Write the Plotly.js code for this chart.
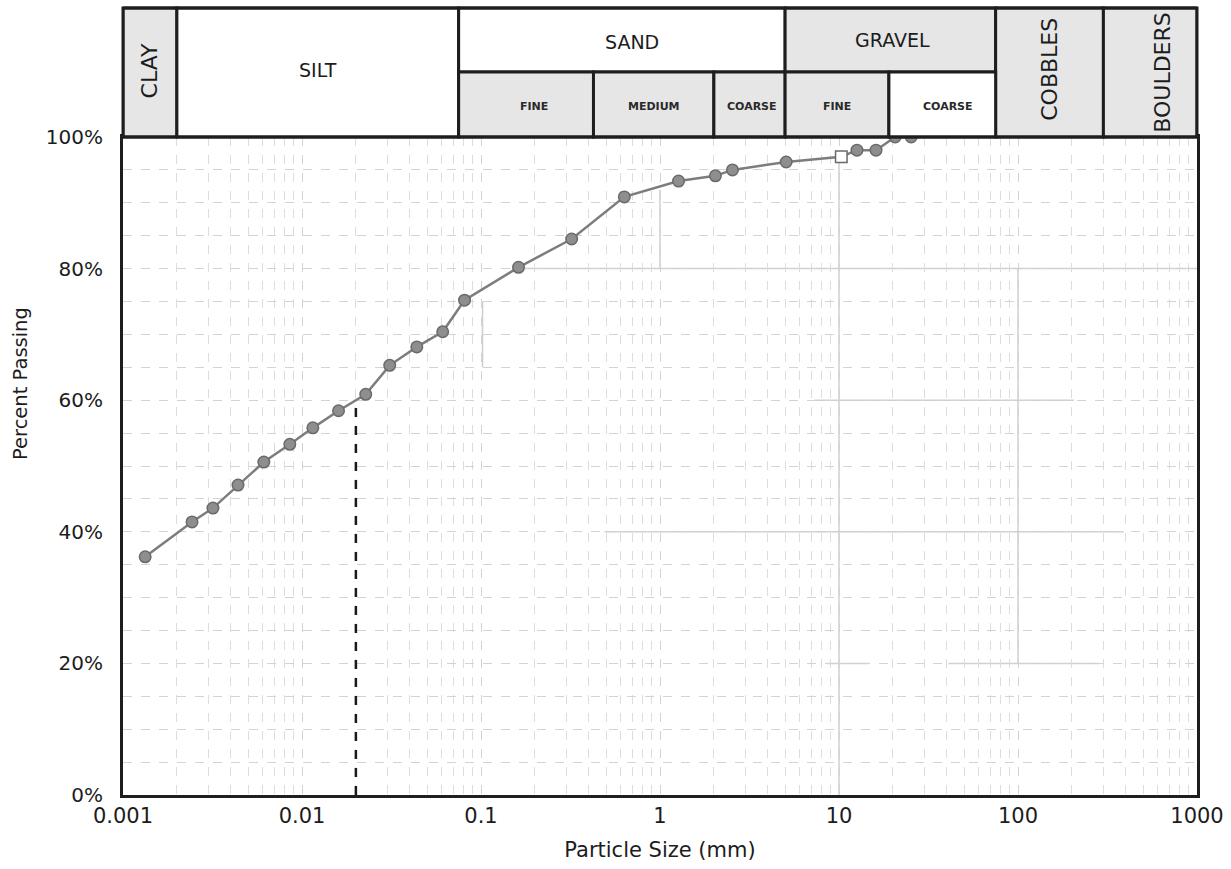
<!DOCTYPE html>
<html><head><meta charset="utf-8">
<script src="https://cdn.plot.ly/plotly-3.0.1.min.js"></script>
<style>html,body{margin:0;padding:0;background:#fff}#chart{width:1231px;height:869px}</style>
</head><body><div id="chart"></div>
<script>
// ---- data ----
const particleSize = [0.00133,0.00243,0.00318,0.00439,0.00612,0.00855,0.0115,0.0160,0.0227,0.0309,0.0438,0.0611,0.0809,0.162,0.321,0.632,1.27,2.04,2.54,5.07,10.3,12.6,16.1,20.6,25.3];
const percentPassing = [36.2,41.5,43.6,47.1,50.6,53.3,55.8,58.4,60.9,65.3,68.1,70.4,75.2,80.2,84.5,90.9,93.3,94.1,95.0,96.2,97.0,98.0,98.0,100,100];
const hollowIndex = 20;
const refLineX = [0.02, 0.02];
const refLineY = [0, 59.8];
const xTickVals = [0.001,0.01,0.1,1,10,100,1000];
const xTickText = ['0.001','0.01','0.1','1','10','100','1000'];
const yTickVals = [0,20,40,60,80,100];
const yTickText = ['0%','20%','40%','60%','80%','100%'];
const xTitle = 'Particle Size (mm)';
const yTitle = 'Percent Passing';
// header classification
const zoneNames  = ['CLAY','SILT','SAND','GRAVEL','COBBLES','BOULDERS'];
const zoneBounds = [0.001,0.002,0.075,5,75,300,1000];
const subNames   = ['FINE','MEDIUM','COARSE','FINE','COARSE'];
const subBounds  = [0.075,0.425,2,5,19,75];
// faint scanned lines [y, x0, x1] and [x, y0, y1]
const faintH = [[80,0.164,1000],[60,7.3,205],[40,0.49,390],[20,8.6,14.7],[20,41,283]];
const faintV = [[10,0,97],[100,20,80],[1,80,92],[0.102,65,75]];

const GRAY='#e6e6e6', EDGE='#1e1e1e';
const Y_TOP=1.1961, Y_MID=1.0988, Y_BOT=1.0;
const FONT='DejaVu Sans, Verdana, sans-serif';
const TXT='#1c1c1c';

const shapes=[], ann=[];
const lm=(a,b)=>Math.pow(10,(Math.log10(a)+Math.log10(b))/2);
function cell(x0,x1,y0,y1,fill){
  shapes.push({type:'rect',xref:'x',yref:'paper',x0:x0,x1:x1,y0:y0,y1:y1,fillcolor:fill,line:{color:EDGE,width:3},layer:'above'});
}
cell(zoneBounds[0],zoneBounds[1],Y_BOT,Y_TOP,GRAY);      // clay
cell(zoneBounds[1],zoneBounds[2],Y_BOT,Y_TOP,'#ffffff'); // silt
cell(zoneBounds[2],zoneBounds[3],Y_MID,Y_TOP,'#ffffff'); // sand
cell(zoneBounds[3],zoneBounds[4],Y_MID,Y_TOP,GRAY);      // gravel
cell(zoneBounds[4],zoneBounds[5],Y_BOT,Y_TOP,GRAY);      // cobbles
cell(zoneBounds[5],zoneBounds[6],Y_BOT,Y_TOP,GRAY);      // boulders
const subFill=[GRAY,GRAY,GRAY,GRAY,'#ffffff'];
for(let i=0;i<subNames.length;i++) cell(subBounds[i],subBounds[i+1],Y_BOT,Y_MID,subFill[i]);
shapes.push({type:'rect',xref:'paper',yref:'paper',x0:0,x1:1,y0:Y_BOT,y1:Y_TOP,line:{color:EDGE,width:3},layer:'above'});

faintH.forEach(s=>shapes.push({type:'line',xref:'x',yref:'y',x0:s[1],x1:s[2],y0:s[0],y1:s[0],line:{color:'#cfcfcf',width:1.5},layer:'below'}));
faintV.forEach(s=>shapes.push({type:'line',xref:'x',yref:'y',x0:s[0],x1:s[0],y0:s[1],y1:s[2],line:{color:'#cfcfcf',width:1.5},layer:'below'}));

const big={family:FONT,size:19,color:TXT};
const rot={family:FONT,size:22,color:TXT};
const small={family:FONT,size:11,color:'#2a2a2a',weight:'bold'};
function label(text,x,y,font,angle,xs){
  ann.push({text:text,xref:'x',yref:'paper',x:Math.log10(x),y:y,showarrow:false,font:font,textangle:angle||0,xanchor:'center',yanchor:'middle',xshift:xs||0});
}
label(zoneNames[0],lm(zoneBounds[0],zoneBounds[1]),1.101,rot,-90);
label(zoneNames[1],lm(zoneBounds[1],zoneBounds[2]),1.1018,big);
label(zoneNames[2],lm(zoneBounds[2],zoneBounds[3]),1.1444,big,0,10);
label(zoneNames[3],lm(zoneBounds[3],zoneBounds[4]),1.147,big,0,2);
label(zoneNames[4],lm(zoneBounds[4],zoneBounds[5]),1.103,rot,-90);
label(zoneNames[5],lm(zoneBounds[5],zoneBounds[6]),1.098,rot,-90,12);
const subShift=[8,0,2,0,6];
for(let i=0;i<subNames.length;i++) label(subNames[i],lm(subBounds[i],subBounds[i+1]),1.0456,small,0,subShift[i]);

// y title as a free annotation (placed like the reference)
ann.push({text:yTitle,xref:'paper',yref:'paper',x:-0.0959,y:0.6246,showarrow:false,textangle:-90,
  xanchor:'center',yanchor:'middle',font:{family:FONT,size:19.5,color:TXT}});

const minorX=[];
for(let e=-3;e<3;e++) for(let d=2;d<=9;d++) minorX.push(d*Math.pow(10,e));

const traces=[
  {x:refLineX,y:refLineY,type:'scatter',mode:'lines',line:{color:'#1a1a1a',width:2.5,dash:'dash'},hoverinfo:'skip',showlegend:false},
  {x:particleSize,y:percentPassing,type:'scatter',mode:'lines+markers',
   line:{color:'#7d7d7d',width:2.5},
   marker:{size:11.5,
     color:percentPassing.map((v,i)=>i===hollowIndex?'#ffffff':'#8e8e8e'),
     symbol:percentPassing.map((v,i)=>i===hollowIndex?'square':'circle'),
     line:{color:'#6a6a6a',width:1.5}},
   showlegend:false}
];

const layout={
  width:1231,height:869,
  margin:{l:123,r:34,t:137,b:74},
  paper_bgcolor:'#ffffff',plot_bgcolor:'#ffffff',
  font:{family:FONT,size:20,color:TXT},
  showlegend:false,
  xaxis:{type:'log',range:[-3,3],tickmode:'array',tickvals:xTickVals,ticktext:xTickText,
    showgrid:true,gridcolor:'#d3d3d3',griddash:'dash',gridwidth:1,
    minor:{tickmode:'array',tickvals:minorX,showgrid:true,gridcolor:'#dddddd',griddash:'dash',gridwidth:1,ticks:''},
    showline:true,linecolor:EDGE,linewidth:3,mirror:true,ticks:'',zeroline:false,
    tickfont:{family:FONT,size:21,color:TXT},
    title:{text:xTitle,font:{family:FONT,size:21,color:TXT},standoff:16}},
  yaxis:{range:[0,100],tickmode:'array',tickvals:yTickVals,ticktext:yTickText,
    showgrid:true,gridcolor:'#d3d3d3',griddash:'dash',gridwidth:1,
    minor:{dtick:5,showgrid:true,gridcolor:'#d3d3d3',griddash:'dash',gridwidth:1,ticks:''},
    showline:true,linecolor:EDGE,linewidth:3,mirror:true,ticks:'',zeroline:false,
    ticklabelstandoff:13,
    tickfont:{family:FONT,size:20,color:TXT}},
  shapes:shapes,annotations:ann
};
Plotly.newPlot('chart',traces,layout,{displayModeBar:false,staticPlot:true});
</script></body></html>
